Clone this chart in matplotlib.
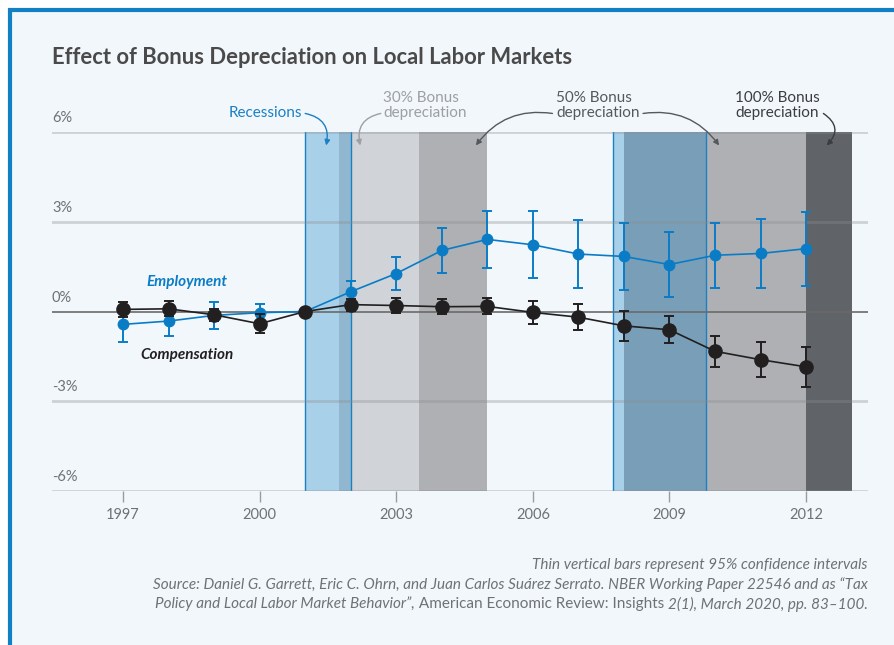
import matplotlib
matplotlib.use("Agg")
import matplotlib.pyplot as plt
from matplotlib.patches import Rectangle
import matplotlib.transforms as mtransforms

# --- Datos ---
years = list(range(1997, 2013))
employment = [-0.43, -0.32, -0.13, -0.04, 0.0, 0.66, 1.27, 2.04, 2.41, 2.23, 1.92, 1.84, 1.57, 1.88, 1.94, 2.10]
employment_ci = [0.60, 0.50, 0.45, 0.30, 0.0, 0.37, 0.54, 0.74, 0.94, 1.12, 1.13, 1.11, 1.08, 1.09, 1.16, 1.24]
compensation = [0.07, 0.09, -0.11, -0.41, 0.0, 0.23, 0.20, 0.16, 0.17, -0.03, -0.19, -0.48, -0.61, -1.33, -1.61, -1.85]
compensation_ci = [0.24, 0.25, 0.20, 0.32, 0.0, 0.20, 0.24, 0.25, 0.27, 0.38, 0.44, 0.49, 0.45, 0.52, 0.58, 0.66]

recessions = [(2001.0, 2002.0), (2007.75, 2009.8)]
bonus_periods = [(2001.75, 2003.5), (2003.5, 2005.0), (2008.0, 2012.0), (2012.0, 2013.0)]
bonus_rates = ["30%", "50%", "50%", "100%"]

y_ticks = [6, 3, 0, -3, -6]
x_ticks = [1997, 2000, 2003, 2006, 2009, 2012]

# --- Estilo ---
plt.rcParams["font.family"] = ["Lato", "DejaVu Sans"]
BLUE = "#0A7CC6"
BLACK = "#221F20"
BG = "#F2F7FB"
GRAY_TXT = "#6E7276"
rate_colors = {"30%": "#D0D3D7", "50%": "#AEB0B4", "100%": "#606469"}

W, H = 895, 645
fig = plt.figure(figsize=(W / 100, H / 100), dpi=100, facecolor="white")
fig.patches.append(Rectangle((10 / W, -0.1), 1.2, 1.1 - 10 / H, transform=fig.transFigure,
                             facecolor=BG, edgecolor="#1380C4", lw=3, zorder=-10))

ax = fig.add_axes([52 / W, 1 - 491 / H, (868 - 52) / W, (491 - 132) / H])
ax.set_facecolor("none")
ax.set_xlim(1995.44, 2013.36)
ax.set_ylim(-6, 6)
for s in ax.spines.values():
    s.set_visible(False)

# --- Periodos sombreados ---
for (a, b), r in zip(bonus_periods, bonus_rates):
    ax.axvspan(a, b, color=rate_colors[r], lw=0, zorder=1)
for a, b in recessions:
    ax.axvspan(a, b, color="#0078C2", alpha=0.3, lw=0, zorder=2)
    ax.axvline(a, color="#1A80C4", lw=1, zorder=2)
    ax.axvline(b, color="#1A80C4", lw=1, zorder=2)

# --- Rejilla ---
for v in y_ticks:
    if v == 0:
        ax.axhline(v, color="#6A6A6A", lw=1.2, zorder=3)
    else:
        ax.axhline(v, color="#8A8D90", alpha=0.35, lw=2, zorder=3)

offset = mtransforms.ScaledTranslation(0, 5 / 72, fig.dpi_scale_trans)
for v in y_ticks:
    ax.text(0, v, f"{v}%", transform=ax.get_yaxis_transform() + offset,
            ha="left", va="bottom", fontsize=10.5, color=GRAY_TXT)
ax.set_yticks([])
ax.set_xticks(x_ticks)
ax.tick_params(axis="x", length=8, width=1, color="#9A9DA0", labelcolor=GRAY_TXT,
               labelsize=10.5, pad=4)

# --- Series ---
def plot_series(vals, ci, color, ms, zo):
    ax.plot(years, vals, color=color, lw=1.2, marker="o", ms=ms, zorder=zo)
    ex = [y for y, c in zip(years, ci) if c > 0]
    ey = [v for v, c in zip(vals, ci) if c > 0]
    ee = [c for c in ci if c > 0]
    ax.errorbar(ex, ey, yerr=ee, fmt="none", ecolor=color, elinewidth=1.4,
                capsize=3.8, capthick=1.4, zorder=zo)

plot_series(employment, employment_ci, BLUE, 7.5, 5)
plot_series(compensation, compensation_ci, BLACK, 9.5, 6)

ax.text(1998.4, 0.97, "Employment", color=BLUE, fontsize=11, style="italic",
        weight="bold", ha="center", va="center")
ax.text(1998.4, -1.44, "Compensation", color=BLACK, fontsize=11, style="italic",
        weight="bold", ha="center", va="center")

# --- Anotaciones ---
def arrow(start, tip, rad, color):
    ax.annotate("", xy=tip, xytext=start, annotation_clip=False,
                arrowprops=dict(arrowstyle="-|>", color=color, lw=1,
                                mutation_scale=8, shrinkA=0, shrinkB=0,
                                connectionstyle=f"arc3,rad={rad}"))

ax.text(2000.93, 6.62, "Recessions", color="#1A80C4", fontsize=11,
        ha="right", va="center", clip_on=False)
arrow((2001.0, 6.62), (2001.46, 5.55), -0.5, "#1A80C4")

ax.text(2002.71, 6.89, "30% Bonus\ndepreciation", color="#9C9FA3", fontsize=11,
        ha="left", va="center", linespacing=1.05, clip_on=False)
arrow((2002.66, 6.62), (2002.21, 5.55), 0.5, "#9C9FA3")

ax.text(2006.51, 6.89, "50% Bonus\ndepreciation", color="#55595E", fontsize=11,
        ha="left", va="center", linespacing=1.05, clip_on=False)
arrow((2006.43, 6.62), (2004.75, 5.55), 0.3, "#55595E")
arrow((2008.42, 6.62), (2010.09, 5.55), -0.3, "#55595E")

ax.text(2010.44, 6.89, "100% Bonus\ndepreciation", color="#3A3D41", fontsize=11,
        ha="left", va="center", linespacing=1.05, clip_on=False)
arrow((2012.38, 6.62), (2012.45, 5.55), -0.6, "#3A3D41")

# --- Título ---
fig.text(52 / W, 1 - 57 / H, "Effect of Bonus Depreciation on Local Labor Markets",
         fontsize=15.8, weight="bold", color="#4A4A4A", ha="left", va="center")

# --- Pie ---
FOOT = dict(fontsize=11, color=GRAY_TXT, va="center")
fig.text(868 / W, 1 - 565 / H, "Thin vertical bars represent 95% confidence intervals",
         ha="right", style="italic", **FOOT)
fig.text(868 / W, 1 - 585 / H, "Source: Daniel G. Garrett, Eric C. Ohrn, and Juan Carlos Suárez Serrato. "
         "NBER Working Paper 22546 and as \u201cTax", ha="right", style="italic", **FOOT)

renderer = fig.canvas.get_renderer()
runs = [("Policy and Local Labor Market Behavior\u201d,", "italic"),
        (" American Economic Review: Insights ", "normal"),
        ("2(1), March 2020, pp. 83\u2013100.", "italic")]
x = 868
for s, st in reversed(runs):
    t = fig.text(x / W, 1 - 604 / H, s, ha="right", style=st, **FOOT)
    x -= t.get_window_extent(renderer).width

fig.savefig("out.png", dpi=100, facecolor=fig.get_facecolor())
